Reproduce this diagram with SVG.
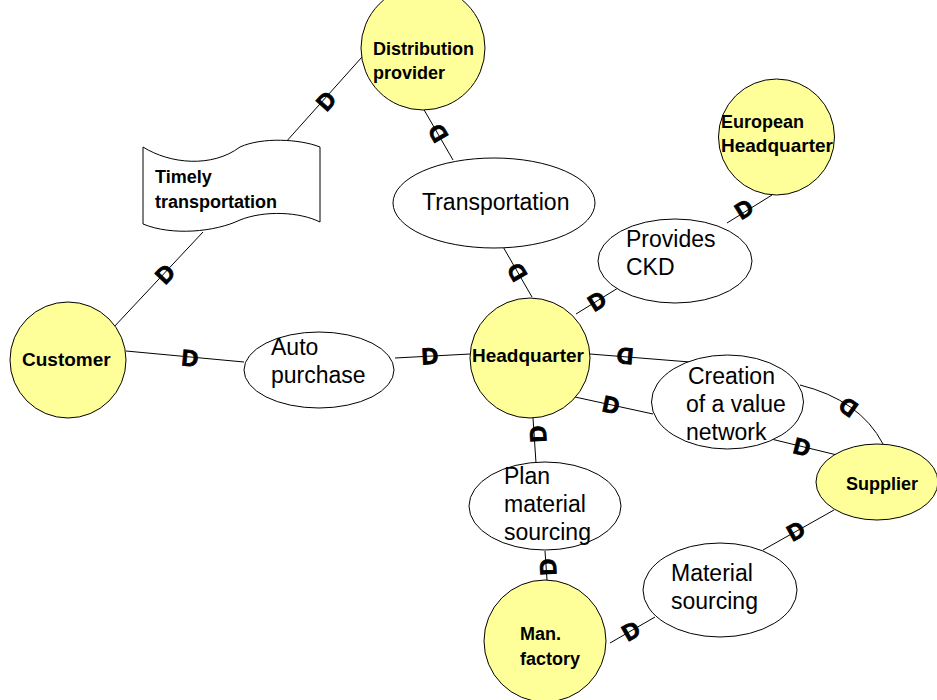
<svg xmlns="http://www.w3.org/2000/svg" width="937" height="700" viewBox="0 0 937 700">
  <style>
    .actor { fill: #ffff99; stroke: #000; stroke-width: 1; }
    .goal { fill: #fff; stroke: #000; stroke-width: 1; }
    .res { fill: #fff; stroke: #000; stroke-width: 1; }
    .link { fill: none; stroke: #000; stroke-width: 1; }
    .alab { font-family: "Liberation Sans", Arial, sans-serif; font-weight: bold; font-size: 18px; fill: #000; }
    .wide { font-size: 19px; }
    .glab { font-family: "Liberation Sans", Arial, sans-serif; font-size: 23px; fill: #000; }
    .dep { font-family: "Liberation Sans", Arial, sans-serif; font-weight: bold; font-size: 23px; fill: #000; stroke: #000; stroke-width: 0.9; text-anchor: middle; }
  </style>
  <rect width="937" height="700" fill="#fff"/>

  <!-- dependency links -->
  <g id="connectors">
    <line class="link" x1="362" y1="57" x2="285" y2="143"/>
    <line class="link" x1="113" y1="328" x2="203" y2="232"/>
    <line class="link" x1="126" y1="351" x2="244" y2="362"/>
    <line class="link" x1="395" y1="358" x2="470" y2="354"/>
    <line class="link" x1="423" y1="108" x2="453" y2="160"/>
    <line class="link" x1="502" y1="245" x2="532" y2="297"/>
    <line class="link" x1="576" y1="314" x2="618" y2="288"/>
    <line class="link" x1="727" y1="223" x2="772" y2="195"/>
    <line class="link" x1="590" y1="354" x2="690" y2="362"/>
    <line class="link" x1="575" y1="397" x2="653" y2="414"/>
    <path class="link" d="M800,385 Q860,400 883,444"/>
    <line class="link" x1="767" y1="438" x2="837" y2="455"/>
    <line class="link" x1="533" y1="418" x2="536" y2="463"/>
    <line class="link" x1="545" y1="551" x2="547" y2="580"/>
    <line class="link" x1="834" y1="510" x2="763" y2="550"/>
    <line class="link" x1="655" y1="617" x2="610" y2="643"/>

    <!-- D markers, bowl toward the dependee -->
    <text class="dep" transform="translate(326,101) rotate(-48)" y="8">D</text>
    <text class="dep" transform="translate(165,274) rotate(-47)" y="8">D</text>
    <text class="dep" transform="translate(190,358) rotate(5)" y="8">D</text>
    <text class="dep" transform="translate(430,356) rotate(-3)" y="8">D</text>
    <text class="dep" transform="translate(438,133) rotate(-120)" y="8">D</text>
    <text class="dep" transform="translate(517,272) rotate(-120)" y="8">D</text>
    <text class="dep" transform="translate(597,301) rotate(-32)" y="8">D</text>
    <text class="dep" transform="translate(744,209) rotate(-32)" y="8">D</text>
    <text class="dep" transform="translate(625,356) rotate(185)" y="8">D</text>
    <text class="dep" transform="translate(611,405) rotate(12)" y="8">D</text>
    <text class="dep" transform="translate(848,407) rotate(215)" y="8">D</text>
    <text class="dep" transform="translate(802,447) rotate(14)" y="8">D</text>
    <text class="dep" transform="translate(538,434) rotate(-94)" y="8">D</text>
    <text class="dep" transform="translate(548,567) rotate(-94)" y="8">D</text>
    <text class="dep" transform="translate(796,531) rotate(-29)" y="8">D</text>
    <text class="dep" transform="translate(631,631) rotate(-30)" y="8">D</text>
  </g>

  <!-- actors -->
  <g id="distribution-provider">
    <circle class="actor" cx="423" cy="48" r="62"/>
    <text class="alab" x="373" y="55">Distribution</text>
    <text class="alab" x="373" y="79">provider</text>
  </g>
  <g id="european-headquarter">
    <circle class="actor" cx="776.5" cy="137" r="58"/>
    <text class="alab" x="721" y="128">European</text>
    <text class="alab wide" x="721" y="152">Headquarter</text>
  </g>
  <g id="customer">
    <circle class="actor" cx="68" cy="360" r="58"/>
    <text class="alab wide" x="22" y="366">Customer</text>
  </g>
  <g id="headquarter">
    <circle class="actor" cx="530" cy="358" r="60"/>
    <text class="alab wide" x="472" y="362">Headquarter</text>
  </g>
  <g id="supplier">
    <ellipse class="actor" cx="877" cy="482" rx="61" ry="38"/>
    <text class="alab" x="846" y="490">Supplier</text>
  </g>
  <g id="man-factory">
    <circle class="actor" cx="545" cy="641" r="61"/>
    <text class="alab" x="520" y="640">Man.</text>
    <text class="alab" x="520" y="665">factory</text>
  </g>

  <!-- resource -->
  <g id="timely-transportation">
    <path class="res" d="M143,147 C170,164 212,168 240,147 C262,137 300,139 320,147 L320,222 C300,212 265,210 240,220 C215,232 172,236 143,224 Z"/>
    <text class="alab" x="155" y="183">Timely</text>
    <text class="alab" x="155" y="208">transportation</text>
  </g>

  <!-- goals -->
  <g id="transportation">
    <ellipse class="goal" cx="494" cy="203" rx="101" ry="45"/>
    <text class="glab" x="422" y="210">Transportation</text>
  </g>
  <g id="provides-ckd">
    <ellipse class="goal" cx="675" cy="261" rx="77" ry="42"/>
    <text class="glab" x="626" y="247">Provides</text>
    <text class="glab" x="626" y="275">CKD</text>
  </g>
  <g id="auto-purchase">
    <ellipse class="goal" cx="319" cy="370" rx="75" ry="38"/>
    <text class="glab" x="271" y="355">Auto</text>
    <text class="glab" x="271" y="383">purchase</text>
  </g>
  <g id="creation-of-a-value-network">
    <ellipse class="goal" cx="727.5" cy="402" rx="76" ry="47"/>
    <text class="glab" x="688" y="384">Creation</text>
    <text class="glab" x="686" y="412">of a value</text>
    <text class="glab" x="686" y="440">network</text>
  </g>
  <g id="plan-material-sourcing">
    <ellipse class="goal" cx="545" cy="506" rx="76" ry="44"/>
    <text class="glab" x="504" y="484">Plan</text>
    <text class="glab" x="504" y="512">material</text>
    <text class="glab" x="504" y="540">sourcing</text>
  </g>
  <g id="material-sourcing">
    <ellipse class="goal" cx="720" cy="590" rx="77" ry="47"/>
    <text class="glab" x="671" y="581">Material</text>
    <text class="glab" x="671" y="609">sourcing</text>
  </g>
</svg>
